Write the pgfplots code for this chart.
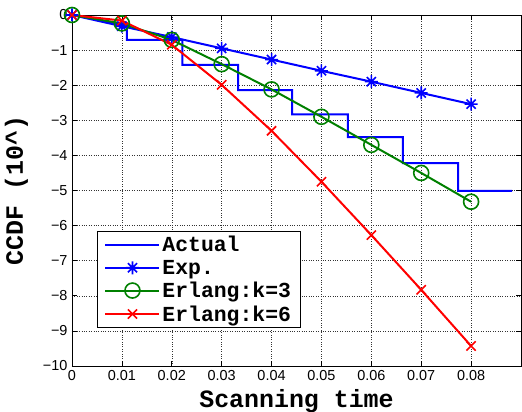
\documentclass[border=0pt]{standalone}
\usepackage{fontspec}
\setmainfont{Liberation Sans}
\newfontfamily\courier{Liberation Mono}
\usepackage{pgfplots}
\pgfplotsset{compat=1.18}
\definecolor{mgreen}{RGB}{0,128,0}
\pgfdeclareplotmark{mstar}{%
  \pgfpathmoveto{\pgfqpoint{-\pgfplotmarksize}{0pt}}\pgfpathlineto{\pgfqpoint{\pgfplotmarksize}{0pt}}%
  \pgfpathmoveto{\pgfqpoint{0pt}{-\pgfplotmarksize}}\pgfpathlineto{\pgfqpoint{0pt}{\pgfplotmarksize}}%
  \pgfpathmoveto{\pgfqpoint{-0.707\pgfplotmarksize}{-0.707\pgfplotmarksize}}\pgfpathlineto{\pgfqpoint{0.707\pgfplotmarksize}{0.707\pgfplotmarksize}}%
  \pgfpathmoveto{\pgfqpoint{-0.707\pgfplotmarksize}{0.707\pgfplotmarksize}}\pgfpathlineto{\pgfqpoint{0.707\pgfplotmarksize}{-0.707\pgfplotmarksize}}%
  \pgfusepathqstroke}
\begin{document}
\begin{tikzpicture}
\useasboundingbox (-72bp,-46bp) rectangle (450bp,366bp);
\begin{axis}[
  scale only axis, width=449bp, height=351bp,
  at={(0,0)}, anchor=south west,
  xmin=0, xmax=0.09, ymin=-10, ymax=0,
  xtick={0,0.01,0.02,0.03,0.04,0.05,0.06,0.07,0.08},
  xticklabels={0,0.01,0.02,0.03,0.04,0.05,0.06,0.07,0.08},
  ytick={-10,-9,-8,-7,-6,-5,-4,-3,-2,-1,0},
  yticklabels={−10,−9,−8,−7,−6,−5,−4,−3,−2,−1,0},
  scaled x ticks=false,
  tick align=inside, tick pos=both,
  major tick length=5bp,
  tick style={black, line width=0.6bp},
  axis line style={line width=0.9bp},
  grid=major, grid style={black!80, dotted, line width=0.5bp},
  tick label style={font=\fontsize{14.5}{14.5}\selectfont},
  xticklabel style={yshift=-1bp},
  yticklabel style={xshift=-1bp},
  xlabel={\courier\bfseries Scanning time},
  ylabel={\courier\bfseries CCDF (10\^{})},
  label style={font=\fontsize{25}{25}\selectfont},
  xlabel style={at={(axis description cs:0.5,0)}, anchor=base, yshift=-41bp},
  ylabel style={yshift=8bp},
  legend style={at={(0.0557,0.3846)}, anchor=north west, draw=black,
    line width=0.9bp, font=\courier\bfseries\fontsize{21.5}{28.5}\selectfont,
    inner xsep=7bp, inner ysep=3bp, row sep=2.5bp, cells={anchor=west}},
  legend image code/.code={%
    \draw[mark repeat=2,mark phase=2,#1] plot coordinates {(0bp,0bp) (27bp,0bp) (54bp,0bp)};},
]
\addplot[blue, line width=2bp] coordinates {
  (0,0) (0.011,-0.3) (0.011,-0.71) (0.0221,-0.71) (0.0221,-1.42) (0.0333,-1.42)
  (0.0333,-2.14) (0.0441,-2.14) (0.0441,-2.83) (0.0553,-2.83) (0.0553,-3.48)
  (0.0663,-3.48) (0.0663,-4.22) (0.0774,-4.22) (0.0774,-5.01) (0.0882,-5.01)};
\addlegendentry{Actual}
\addplot[blue, line width=2bp, mark=mstar, mark size=6.5bp, mark options={line width=1.6bp}] coordinates {
  (0,0) (0.01,-0.32) (0.02,-0.63) (0.03,-0.95) (0.04,-1.27) (0.05,-1.59)
  (0.06,-1.9) (0.07,-2.22) (0.08,-2.54)};
\addlegendentry{Exp.}
\addplot[mgreen, line width=2bp, mark=o, mark size=7.5bp, mark options={line width=1.6bp}] coordinates {
  (0,0) (0.01,-0.24) (0.02,-0.71) (0.03,-1.4) (0.04,-2.12) (0.05,-2.9)
  (0.06,-3.7) (0.07,-4.5) (0.08,-5.32)};
\addlegendentry{Erlang:k=3}
\addplot[red, line width=2bp, mark=x, mark size=6.5bp, mark options={line width=1.6bp}] coordinates {
  (0,0) (0.01,-0.16) (0.02,-0.85) (0.03,-1.99) (0.04,-3.3) (0.05,-4.75)
  (0.06,-6.27) (0.07,-7.83) (0.08,-9.43)};
\addlegendentry{Erlang:k=6}
\end{axis}
\end{tikzpicture}
\end{document}
